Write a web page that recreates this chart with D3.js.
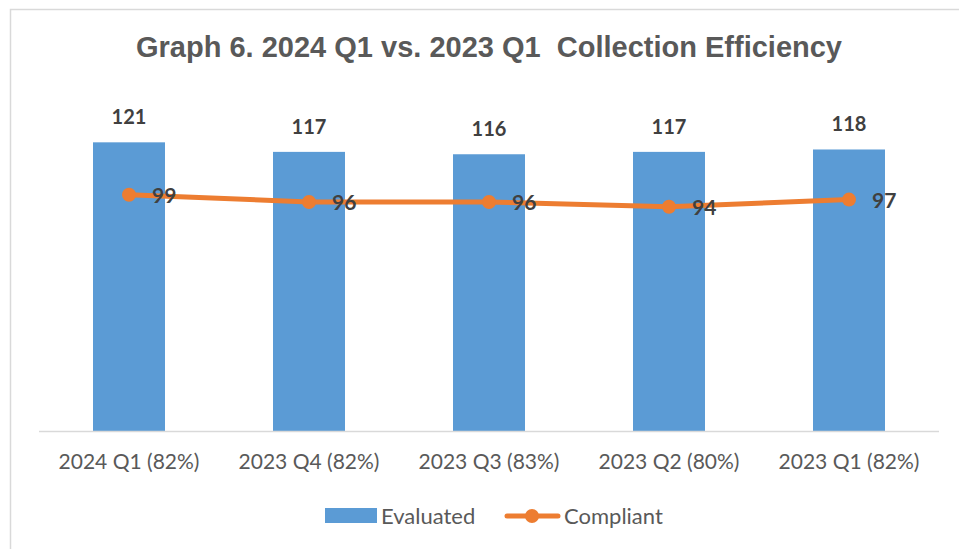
<!DOCTYPE html>
<html>
<head>
<meta charset="utf-8">
<script src="https://cdn.jsdelivr.net/npm/d3@7"></script>
<style>
  body { margin: 0; background: #fff; }
  svg { display: block; }
</style>
</head>
<body>
<svg id="chart"></svg>
<script>
const categories = ["2024 Q1 (82%)", "2023 Q4 (82%)", "2023 Q3 (83%)", "2023 Q2 (80%)", "2023 Q1 (82%)"];
const evaluated = [121, 117, 116, 117, 118];
const compliant = [99, 96, 96, 94, 97];
const seriesNames = ["Evaluated", "Compliant"];
const title = "Graph 6. 2024 Q1 vs. 2023 Q1\u00a0 Collection Efficiency";

const W = 959, H = 549;
const margin = { top: 97, right: 20, bottom: 118, left: 39 };
const width = 900, height = H - margin.top - margin.bottom;
const bodyFont = "Lato, 'Open Sans', sans-serif";

const svg = d3.select("#chart").attr("width", W).attr("height", H);

// outer frame (clipped by the window on the right and bottom)
svg.append("rect")
    .attr("x", 10.5).attr("y", 9.5)
    .attr("width", 980).attr("height", 580)
    .attr("fill", "none").attr("stroke", "#d9d9d9").attr("stroke-width", 1.5);

svg.append("text")
    .attr("x", 489).attr("y", 57)
    .attr("text-anchor", "middle")
    .style("font-family", "'Liberation Sans', Arial, sans-serif")
    .style("font-weight", "bold")
    .style("font-size", "29px")
    .attr("fill", "#595959")
    .text(title);

const data = categories.map((c, i) => ({ cat: c, ev: evaluated[i], co: compliant[i] }));

const x = d3.scaleBand().domain(categories).range([0, width]).paddingInner(0.6).paddingOuter(0.3);
const y = d3.scaleLinear().domain([0, 140]).range([height, 0]);

const g = svg.append("g").attr("transform", `translate(${margin.left}, ${margin.top})`);

g.selectAll(".bar")
    .data(data)
    .join("rect")
    .attr("class", "bar")
    .attr("x", d => x(d.cat))
    .attr("y", d => y(d.ev))
    .attr("width", x.bandwidth())
    .attr("height", d => height - y(d.ev))
    .attr("fill", "#5b9bd5");

// x axis
const xAxis = g.append("g")
    .attr("transform", `translate(0, ${height})`)
    .call(d3.axisBottom(x).tickSize(0).tickPadding(23));
xAxis.select(".domain").attr("stroke", "#d9d9d9").attr("stroke-width", 1.5).attr("d", `M0,0.5H${width}`);
xAxis.selectAll("text")
    .style("font-family", bodyFont)
    .style("font-size", "21px")
    .attr("fill", "#595959");

g.selectAll(".barLabel")
    .data(data)
    .join("text")
    .attr("class", "barLabel")
    .attr("x", d => x(d.cat) + x.bandwidth() / 2)
    .attr("y", d => y(d.ev) - 18)
    .attr("text-anchor", "middle")
    .style("font-family", bodyFont)
    .style("font-weight", "bold")
    .style("font-size", "20px")
    .attr("fill", "#404040")
    .text(d => d.ev);

const cx = d => x(d.cat) + x.bandwidth() / 2;

g.append("path")
    .datum(data)
    .attr("fill", "none")
    .attr("stroke", "#ed7d31")
    .attr("stroke-width", 5)
    .attr("stroke-linecap", "round")
    .attr("d", d3.line().x(cx).y(d => y(d.co)));

g.selectAll(".dot")
    .data(data)
    .join("circle")
    .attr("class", "dot")
    .attr("cx", cx)
    .attr("cy", d => y(d.co))
    .attr("r", 7)
    .attr("fill", "#ed7d31");

g.selectAll(".lineLabel")
    .data(data)
    .join("text")
    .attr("class", "lineLabel")
    .attr("x", d => cx(d) + 23)
    .attr("y", d => y(d.co) + 8)
    .style("font-family", bodyFont)
    .style("font-weight", "bold")
    .style("font-size", "21px")
    .attr("fill", "#404040")
    .text(d => d.co);

// legend
const legend = svg.append("g").attr("transform", "translate(0, 516)");
legend.append("rect")
    .attr("x", 325).attr("y", -8).attr("width", 52).attr("height", 15)
    .attr("fill", "#5b9bd5");
legend.append("text")
    .attr("x", 381).attr("y", 8)
    .style("font-family", bodyFont)
    .style("font-size", "22px")
    .attr("fill", "#595959")
    .text(seriesNames[0]);
legend.append("line")
    .attr("x1", 507).attr("x2", 558).attr("y1", 0).attr("y2", 0)
    .attr("stroke", "#ed7d31").attr("stroke-width", 5).attr("stroke-linecap", "round");
legend.append("circle")
    .attr("cx", 532).attr("cy", 0).attr("r", 7).attr("fill", "#ed7d31");
legend.append("text")
    .attr("x", 564).attr("y", 8)
    .style("font-family", bodyFont)
    .style("font-size", "22px")
    .attr("fill", "#595959")
    .text(seriesNames[1]);
</script>
</body>
</html>
